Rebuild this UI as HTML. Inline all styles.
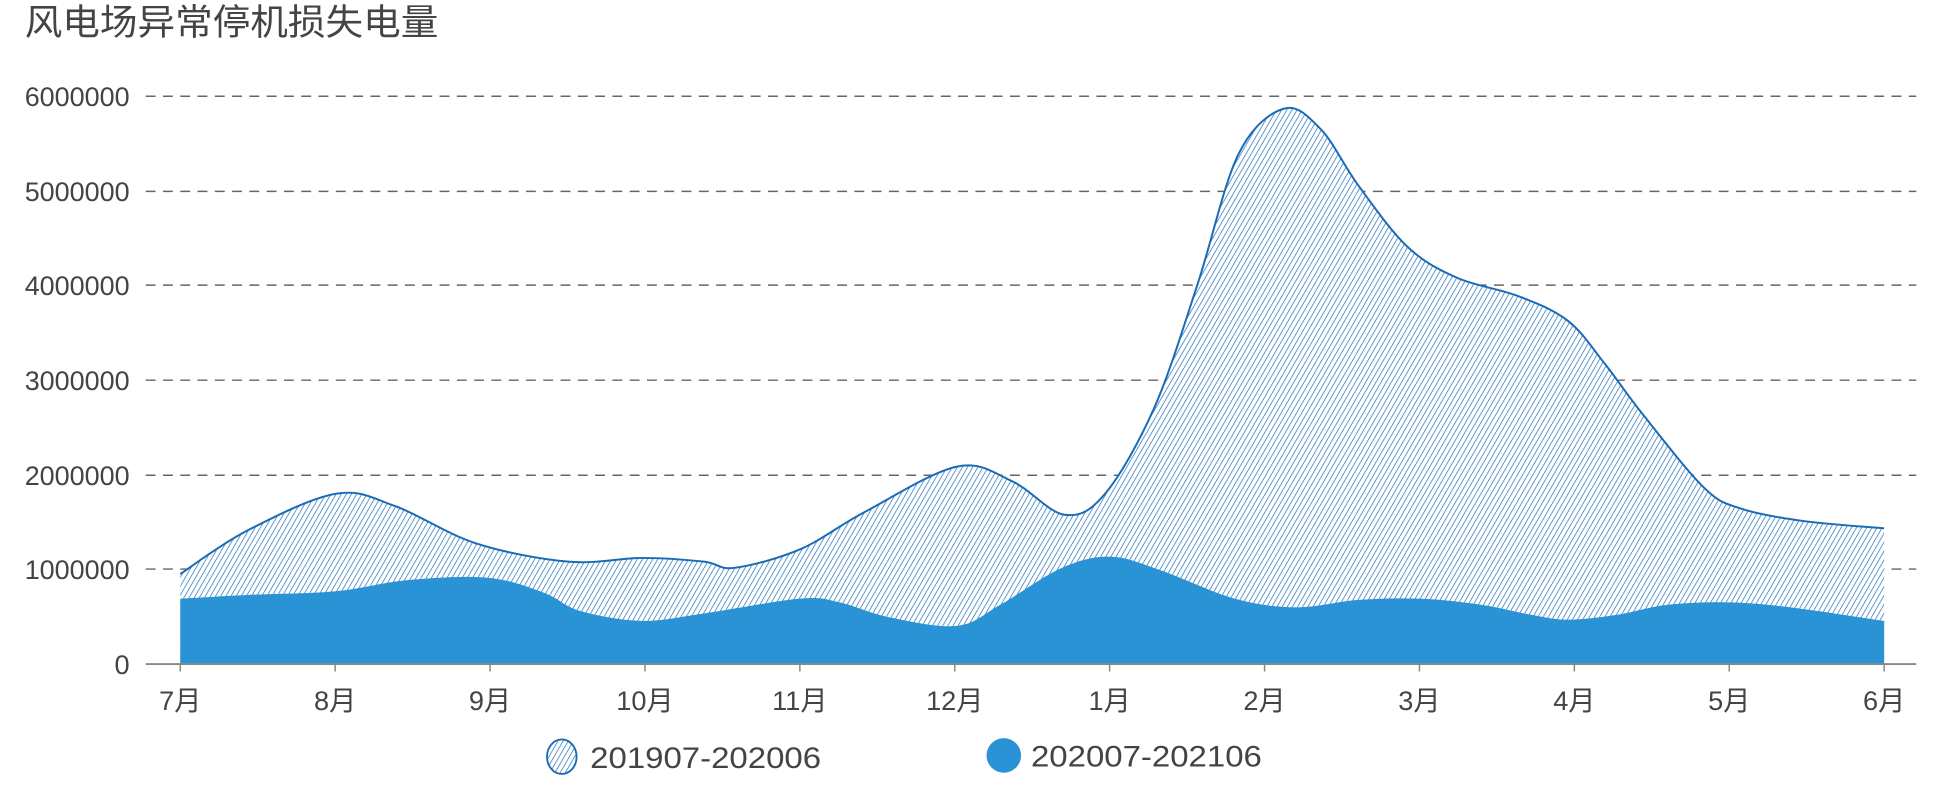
<!DOCTYPE html>
<html><head><meta charset="utf-8"><style>
html,body{margin:0;padding:0;background:#fff;}
svg{display:block}
text{font-family:"Liberation Sans","Noto Sans CJK SC",sans-serif;fill:#444}
</style></head><body>
<svg id="s" width="1936" height="811" viewBox="0 0 1568 657" preserveAspectRatio="none">
<defs>
<pattern id="h" patternUnits="userSpaceOnUse" width="3.6" height="3.6" patternTransform="rotate(30)">
<rect width="3.6" height="3.6" fill="#fff"/>
<line x1="0" y1="0" x2="0" y2="3.6" stroke="#1a6bb5" stroke-width="1.1"/>
</pattern>
</defs>
<text x="20" y="28" font-size="29" textLength="335" lengthAdjust="spacingAndGlyphs">风电场异常停机损失电量</text>
<g font-size="22" text-anchor="end">
<text x="105" y="86" textLength="85" lengthAdjust="spacingAndGlyphs">6000000</text>
<text x="105" y="163" textLength="85" lengthAdjust="spacingAndGlyphs">5000000</text>
<text x="105" y="239" textLength="85" lengthAdjust="spacingAndGlyphs">4000000</text>
<text x="105" y="316" textLength="85" lengthAdjust="spacingAndGlyphs">3000000</text>
<text x="105" y="393" textLength="85" lengthAdjust="spacingAndGlyphs">2000000</text>
<text x="105" y="469" textLength="85" lengthAdjust="spacingAndGlyphs">1000000</text>
<text x="105" y="546">0</text>
</g>
<g stroke="#666" stroke-width="1.2" stroke-dasharray="8,6">
<line x1="118" y1="78" x2="1552" y2="78"/>
<line x1="118" y1="155" x2="1552" y2="155"/>
<line x1="118" y1="231" x2="1552" y2="231"/>
<line x1="118" y1="308" x2="1552" y2="308"/>
<line x1="118" y1="385" x2="1552" y2="385"/>
<line x1="118" y1="461" x2="1552" y2="461"/>
</g>
<path id="a1" fill="url(#h)" stroke="none"/>
<path id="l1" fill="none" stroke="#1a6bb5" stroke-width="1.6"/>
<path id="a2" fill="#2a93d5" stroke="none"/>
<line x1="118" y1="538" x2="1552" y2="538" stroke="#888" stroke-width="1.5"/>
<g id="ticks" stroke="#888" stroke-width="1.2"></g>
<g id="xl" font-size="22" text-anchor="middle"></g>
<ellipse cx="455" cy="613" rx="12" ry="14" fill="url(#h)" stroke="#1a6bb5" stroke-width="1.5"/>
<text x="478" y="622" font-size="24" textLength="187" lengthAdjust="spacingAndGlyphs">201907-202006</text>
<circle cx="813" cy="612" r="14" fill="#2a93d5"/>
<text x="835" y="621" font-size="24" textLength="187" lengthAdjust="spacingAndGlyphs">202007-202106</text>
</svg>
<script>
var B=538;
var t=[[146,465],[200,430],[272,400],[320,410],[385,440],[460,455],[520,452],[570,455],[595,460],[648,445],[700,415],[775,378],[820,390],[862,417],[895,400],[935,330],[970,230],[1003,125],[1040,88],[1070,105],[1100,150],[1140,200],[1180,225],[1230,240],[1270,260],[1300,295],[1330,335],[1380,395],[1410,412],[1460,422],[1526,428]];
var b=[[146,485],[200,482],[272,479],[330,470],[395,468],[440,480],[470,495],[520,503],[570,497],[648,485],[680,488],[720,500],[775,507],[810,490],[860,460],[900,451],[940,462],[1000,485],[1050,492],[1100,486],[1150,485],[1200,490],[1240,498],[1270,502],[1310,498],[1350,490],[1400,488],[1450,492],[1526,503]];
function cr(p){var d="M"+p[0][0]+","+p[0][1];for(var i=0;i<p.length-1;i++){var p0=p[i-1]||p[i],p1=p[i],p2=p[i+1],p3=p[i+2]||p2;var c1x=p1[0]+(p2[0]-p0[0])/6,c1y=p1[1]+(p2[1]-p0[1])/6,c2x=p2[0]-(p3[0]-p1[0])/6,c2y=p2[1]-(p3[1]-p1[1])/6;d+=" C"+c1x+","+c1y+" "+c2x+","+c2y+" "+p2[0]+","+p2[1];}return d;}
var d1=cr(t),d2=cr(b);
document.getElementById("l1").setAttribute("d",d1);
document.getElementById("a1").setAttribute("d",d1+" L1526,"+B+" L146,"+B+" Z");
document.getElementById("a2").setAttribute("d",d2+" L1526,"+B+" L146,"+B+" Z");
var ns="http://www.w3.org/2000/svg",m=["7月","8月","9月","10月","11月","12月","1月","2月","3月","4月","5月","6月"];
for(var i=0;i<12;i++){var x=146+i*(1380/11);var l=document.createElementNS(ns,"line");l.setAttribute("x1",x);l.setAttribute("x2",x);l.setAttribute("y1",B);l.setAttribute("y2",B+6);document.getElementById("ticks").appendChild(l);var tx=document.createElementNS(ns,"text");tx.setAttribute("x",x);tx.setAttribute("y",575);tx.textContent=m[i];document.getElementById("xl").appendChild(tx);}
</script>
</body></html>
